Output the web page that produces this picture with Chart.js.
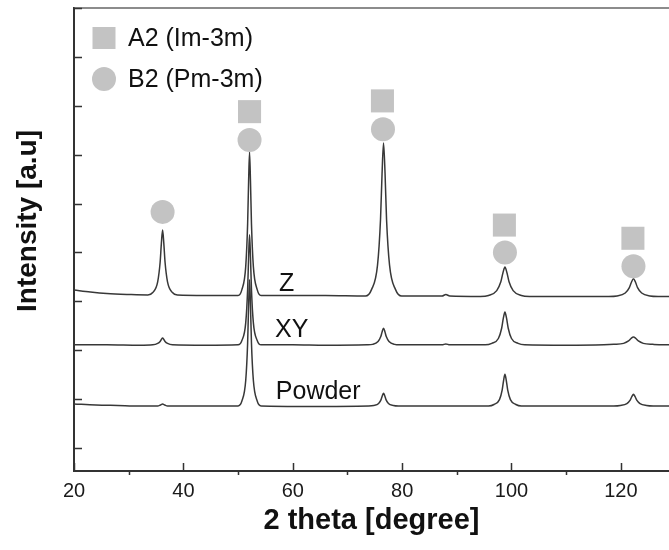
<!DOCTYPE html>
<html>
<head>
<meta charset="utf-8">
<title>XRD patterns</title>
<script src="https://cdn.jsdelivr.net/npm/chart.js@4.4.1/dist/chart.umd.min.js"></script>
<style>
  html, body { margin: 0; padding: 0; background: #fff; }
  #wrap { width: 669px; height: 550px; position: relative; }
</style>
</head>
<body>
<div id="wrap"><canvas id="xrdChart"></canvas></div>
<script>
// ─── Scan data: [2θ (deg), intensity (a.u., stacked offsets)] ───
const zScan = [
  [20, 3.23], [23, 3.19], [26, 3.16], [30, 3.14], [33.5, 3.13],
  [34.4, 3.18], [35.3, 3.40], [35.75, 3.80], [35.98, 4.19], [36.2, 4.46], [36.42, 4.19], [36.65, 3.80], [37.1, 3.40], [38.0, 3.18], [38.9, 3.13],
  [44, 3.12], [50.0, 3.12],
  [50.7, 3.24], [51.4, 3.71], [51.75, 4.59], [51.93, 5.46], [52.1, 6.05], [52.27, 5.46], [52.45, 4.59], [52.8, 3.71], [53.5, 3.24], [54.2, 3.12],
  [60, 3.12], [66, 3.12], [73.3, 3.11],
  [74.4, 3.24], [75.5, 3.74], [76.05, 4.68], [76.33, 5.61], [76.6, 6.24], [76.88, 5.61], [77.15, 4.68], [77.7, 3.74], [78.8, 3.24], [79.9, 3.11],
  [84, 3.11], [87.3, 3.11], [88.0, 3.14], [88.7, 3.11], [94.3, 3.10],
  [95.8, 3.12], [97.3, 3.22], [98.05, 3.40], [98.43, 3.58], [98.8, 3.70], [99.18, 3.58], [99.55, 3.40], [100.3, 3.22], [101.8, 3.12], [103.3, 3.10],
  [110, 3.10], [117.8, 3.10],
  [119.3, 3.11], [120.8, 3.17], [121.55, 3.28], [121.93, 3.39], [122.3, 3.46], [122.68, 3.39], [123.05, 3.28], [123.8, 3.17], [125.3, 3.11], [126.8, 3.10],
  [128.8, 3.10]
];

const xyScan = [
  [20, 2.11], [26, 2.11], [32, 2.10], [34.4, 2.11],
  [35.3, 2.14], [35.75, 2.18], [35.98, 2.22], [36.2, 2.25], [36.42, 2.22], [36.65, 2.18], [37.1, 2.14], [38.0, 2.11],
  [44, 2.10], [50.0, 2.11],
  [50.7, 2.20], [51.4, 2.56], [51.75, 3.24], [51.93, 3.91], [52.1, 4.36], [52.27, 3.91], [52.45, 3.24], [52.8, 2.56], [53.5, 2.20], [54.2, 2.11],
  [60, 2.11], [66, 2.10], [73.6, 2.11],
  [74.6, 2.12], [75.6, 2.18], [76.1, 2.28], [76.35, 2.38], [76.6, 2.45], [76.85, 2.38], [77.1, 2.28], [77.6, 2.18], [78.6, 2.12], [79.6, 2.11],
  [87.3, 2.11], [88.0, 2.13], [88.7, 2.11], [95.2, 2.11],
  [96.4, 2.14], [97.6, 2.24], [98.2, 2.45], [98.5, 2.65], [98.8, 2.78], [99.1, 2.65], [99.4, 2.45], [100.0, 2.24], [101.2, 2.14], [102.4, 2.11],
  [110, 2.10], [116.9, 2.11],
  [118.7, 2.12], [120.5, 2.14], [121.4, 2.19], [121.85, 2.24], [122.3, 2.27], [122.75, 2.24], [123.2, 2.19], [124.1, 2.14], [125.9, 2.12], [127.7, 2.11],
  [128.8, 2.11]
];

const powderScan = [
  [20, 0.90], [24, 0.88], [28, 0.87], [32, 0.86], [35.3, 0.86],
  [35.8, 0.88], [36.2, 0.90], [36.6, 0.88], [37.1, 0.86],
  [44, 0.86], [50.0, 0.86],
  [50.7, 0.96], [51.4, 1.38], [51.75, 2.15], [51.93, 2.92], [52.1, 3.44], [52.27, 2.92], [52.45, 2.15], [52.8, 1.38], [53.5, 0.96], [54.2, 0.86],
  [63, 0.85], [73.9, 0.86],
  [74.8, 0.87], [75.7, 0.91], [76.15, 0.99], [76.38, 1.07], [76.6, 1.12], [76.82, 1.07], [77.05, 0.99], [77.5, 0.91], [78.4, 0.87], [79.3, 0.86],
  [88, 0.86], [95.8, 0.86],
  [96.8, 0.89], [97.8, 0.99], [98.3, 1.19], [98.55, 1.38], [98.8, 1.51], [99.05, 1.38], [99.3, 1.19], [99.8, 0.99], [100.8, 0.89], [101.8, 0.86],
  [110, 0.86], [118.7, 0.86],
  [119.9, 0.87], [121.1, 0.91], [121.7, 0.98], [122.0, 1.05], [122.3, 1.10], [122.6, 1.05], [122.9, 0.98], [123.5, 0.91], [124.7, 0.87], [125.9, 0.86],
  [128.8, 0.86]
];

// Phase markers placed above the reflections
const a2Peaks = [[52.1, 6.88], [76.4, 7.10], [98.7, 4.56], [122.2, 4.29]];
const b2Peaks = [[36.2, 4.83], [52.1, 6.30], [76.5, 6.52], [98.8, 4.00], [122.3, 3.72]];

// Axis ticks
const xMajorTicks = [20, 40, 60, 80, 100, 120];
const xMinorTicks = [30, 50, 70, 90, 110];
const yTicks = [0, 1, 2, 3, 4, 5, 6, 7, 8, 9];

const FONT = "'Liberation Sans', Arial, sans-serif";
const AXIS_COLOR = '#333';
const LINE_COLOR = '#383838';
const MARK_COLOR = '#c3c3c3';

const toPoints = rows => rows.map(([x, y]) => ({ x, y }));

// ─── Frame, inward ticks, labels and legend ──────────────
const frameMarks = {
  id: 'frameMarks',
  afterDraw(chart) {
    const { ctx, chartArea: area, scales: { x, y } } = chart;
    ctx.save();

    // top edge of the frame
    ctx.strokeStyle = '#666';
    ctx.lineWidth = 1.5;
    ctx.beginPath();
    ctx.moveTo(area.left, area.top);
    ctx.lineTo(area.right, area.top);
    ctx.stroke();

    ctx.strokeStyle = AXIS_COLOR;
    ctx.lineWidth = 1.5;
    ctx.beginPath();
    yTicks.forEach(v => {
      const py = Math.round(y.getPixelForValue(v)) + 0.5;
      ctx.moveTo(area.left, py);
      ctx.lineTo(area.left + 8, py);
    });
    xMajorTicks.forEach(v => {
      const px = Math.round(x.getPixelForValue(v)) + 0.5;
      ctx.moveTo(px, area.bottom);
      ctx.lineTo(px, area.bottom - 8);
    });
    xMinorTicks.forEach(v => {
      const px = Math.round(x.getPixelForValue(v)) + 0.5;
      ctx.moveTo(px, area.bottom);
      ctx.lineTo(px, area.bottom + 4);
    });
    ctx.stroke();

    // scan labels
    ctx.fillStyle = '#111';
    ctx.font = `25px ${FONT}`;
    ctx.textAlign = 'left';
    ctx.textBaseline = 'alphabetic';
    ctx.fillText('Z', x.getPixelForValue(57.5), y.getPixelForValue(3.21));
    ctx.fillText('XY', x.getPixelForValue(56.75), y.getPixelForValue(2.27));
    ctx.fillText('Powder', x.getPixelForValue(56.9), y.getPixelForValue(1.0));

    // legend
    const lx = area.left + 30;
    ctx.fillStyle = MARK_COLOR;
    ctx.fillRect(lx - 11.5, 27, 23, 22);
    ctx.beginPath();
    ctx.arc(lx, 79, 12, 0, Math.PI * 2);
    ctx.fill();
    ctx.fillStyle = '#111';
    ctx.textBaseline = 'middle';
    ctx.fillText('A2 (Im-3m)', lx + 24, 39);
    ctx.fillText('B2 (Pm-3m)', lx + 24, 80);

    // y axis title
    ctx.translate(28.5, 221);
    ctx.rotate(-Math.PI / 2);
    ctx.textAlign = 'center';
    ctx.font = `bold 28px ${FONT}`;
    ctx.fillText('Intensity [a.u]', 0, 0);

    ctx.restore();
  }
};

const traceStyle = {
  borderColor: LINE_COLOR,
  borderWidth: 1.5,
  pointRadius: 0,
  fill: false,
  cubicInterpolationMode: 'monotone',
};

new Chart(document.getElementById('xrdChart'), {
  type: 'line',
  data: {
    datasets: [
      { label: 'A2 (Im-3m)', data: toPoints(a2Peaks), showLine: false, pointStyle: 'rect',
        pointRadius: 16.3, pointBackgroundColor: MARK_COLOR, pointBorderWidth: 0, borderColor: MARK_COLOR },
      { label: 'B2 (Pm-3m)', data: toPoints(b2Peaks), showLine: false, pointStyle: 'circle',
        pointRadius: 12, pointBackgroundColor: MARK_COLOR, pointBorderWidth: 0, borderColor: MARK_COLOR },
      { label: 'Z', data: toPoints(zScan), ...traceStyle },
      { label: 'XY', data: toPoints(xyScan), ...traceStyle },
      { label: 'Powder', data: toPoints(powderScan), ...traceStyle },
    ],
  },
  options: {
    responsive: true,
    maintainAspectRatio: false,
    animation: false,
    // big phase markers would otherwise push the plot area inwards
    layout: { autoPadding: false, padding: { top: 8, right: 0, bottom: 0, left: 0 } },
    plugins: { legend: { display: false }, tooltip: { enabled: false } },
    scales: {
      x: {
        type: 'linear',
        min: 20,
        max: 128.8,
        grid: { display: false, drawTicks: false },
        border: { display: true, color: AXIS_COLOR, width: 2 },
        afterBuildTicks: s => { s.ticks = xMajorTicks.map(v => ({ value: v })); },
        afterFit: s => { s.height = 79; },
        ticks: { color: '#1a1a1a', font: { family: FONT, size: 20 }, padding: 8, maxRotation: 0, autoSkip: false },
        title: {
          display: true,
          text: '2 theta [degree]',
          color: '#111',
          font: { family: FONT, size: 29, weight: 'bold' },
          padding: { top: 0, bottom: 12 },
        },
      },
      y: {
        type: 'linear',
        min: -0.47,
        max: 9,
        grid: { display: false, drawTicks: false },
        border: { display: true, color: AXIS_COLOR, width: 2 },
        ticks: { display: false },
        afterFit: s => { s.width = 74; },
      },
    },
  },
  plugins: [frameMarks],
});
</script>
</body>
</html>
